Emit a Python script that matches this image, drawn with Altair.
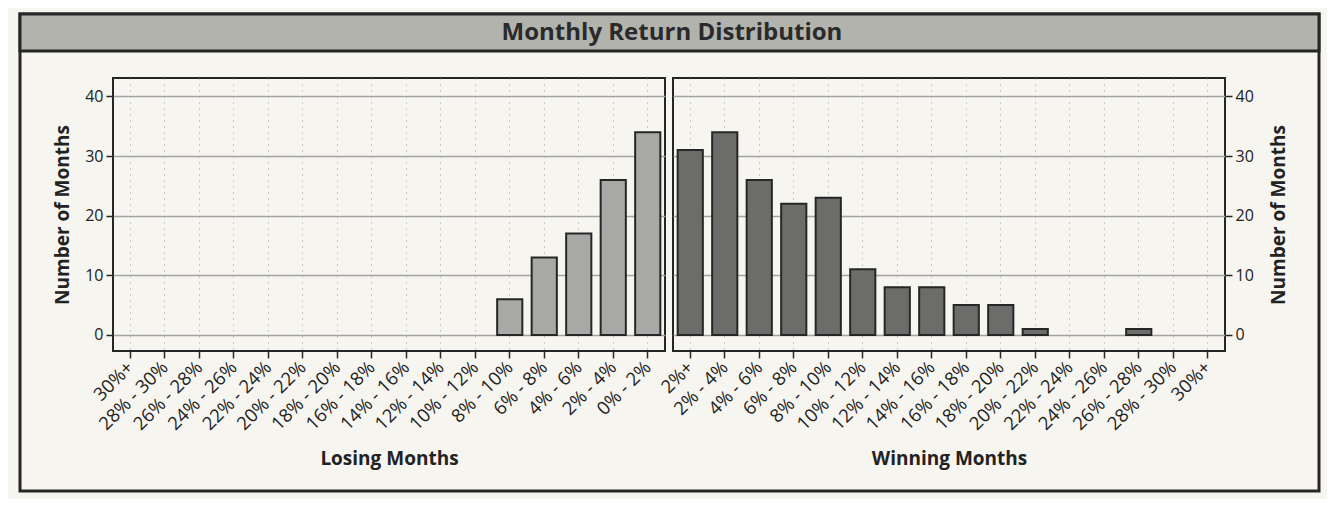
import altair as alt
import pandas as pd

losing_labels = ["30%+", "28% - 30%", "26% - 28%", "24% - 26%", "22% - 24%", "20% - 22%",
                 "18% - 20%", "16% - 18%", "14% - 16%", "12% - 14%", "10% - 12%", "8% - 10%",
                 "6% - 8%", "4% - 6%", "2% - 4%", "0% - 2%"]
losing_counts = [0, 0, 0, 0, 0, 0, 0, 0, 0, 0, 0, 6, 13, 17, 26, 34]

winning_labels = ["2%+", "2% - 4%", "4% - 6%", "6% - 8%", "8% - 10%", "10% - 12%",
                  "12% - 14%", "14% - 16%", "16% - 18%", "18% - 20%", "20% - 22%",
                  "22% - 24%", "24% - 26%", "26% - 28%", "28% - 30%", "30%+"]
winning_counts = [31, 34, 26, 22, 23, 11, 8, 8, 5, 5, 1, 0, 0, 1, 0, 0]

y_ticks = [0, 10, 20, 30, 40]
title_text = "Monthly Return Distribution"
y_title = "Number of Months"

FONT = "Open Sans"
INK = "#262626"
W, H = 552, 273
YDOM = [-2.7, 43.1]


def panel(labels, counts, color, xtitle, orient):
    df = pd.DataFrame({"bucket": labels, "months": counts})
    title_x = -51 if orient == "left" else 53
    x = alt.X("bucket:N",
              scale=alt.Scale(domain=labels, paddingInner=0.27, paddingOuter=0.135),
              axis=alt.Axis(title=xtitle, labelAngle=315, labelAlign="right",
                            labelBaseline="middle", labelFontSize=18.5, labelPadding=6,
                            tickSize=7, grid=True, gridDash=[1, 5], gridColor="#9a9a9a",
                            gridWidth=1, domain=False, titleFontSize=19,
                            titleFontWeight="bold", titleY=107, titleBaseline="middle",
                            bandPosition=0.5))
    y = alt.Y("months:Q",
              scale=alt.Scale(domain=YDOM, nice=False, zero=False),
              axis=alt.Axis(orient=orient, values=y_ticks, title=y_title,
                            titleAngle=270, titleFontSize=19, titleFontWeight="bold",
                            titleX=title_x, titleY=H / 2, titleAlign="center",
                            titleBaseline="middle", labelFontSize=16, labelPadding=3,
                            tickSize=7, grid=True, gridColor="#a3a3a3", gridWidth=1.3,
                            domain=False))
    bars = alt.Chart(df).transform_filter("datum.months > 0").mark_bar(
        color=color, stroke=INK, strokeWidth=2
    ).encode(x=x, y=y, y2=alt.datum(0))
    return bars


deco = pd.DataFrame({"k": [0]})
frame = alt.Chart(deco).mark_rect(fillOpacity=0, stroke=INK, strokeWidth=3).encode(
    x=alt.value(-93), x2=alt.value(1206), y=alt.value(-64), y2=alt.value(413))
header = alt.Chart(deco).mark_rect(fill="#b3b3ae", stroke=INK, strokeWidth=3).encode(
    x=alt.value(-93), x2=alt.value(1206), y=alt.value(-64), y2=alt.value(-27))
header_text = alt.Chart(deco).mark_text(font=FONT, fontSize=24, fontWeight="bold",
                                        color="#2a2a2a", align="center",
                                        baseline="middle").encode(
    x=alt.value(559), y=alt.value(-45), text=alt.value(title_text))

left = alt.layer(frame, header, header_text,
                 panel(losing_labels, losing_counts, "#a8a8a6", "Losing Months", "left")
                 ).properties(width=W, height=H)
right = panel(winning_labels, winning_counts, "#6c6c6a", "Winning Months", "right"
              ).properties(width=W, height=H)

chart = alt.hconcat(left, right, spacing=8, bounds="flush").properties(
    padding={"left": 9, "top": 3, "right": 5, "bottom": 5},
    background="#f6f5f0",
).configure_view(stroke=INK, strokeWidth=2).configure_axis(
    labelFont=FONT, titleFont=FONT, labelColor="#222222", titleColor="#222222",
    tickColor=INK, tickWidth=1.5
)

chart.save("out.html", embed_options={"renderer": "svg", "actions": False})
